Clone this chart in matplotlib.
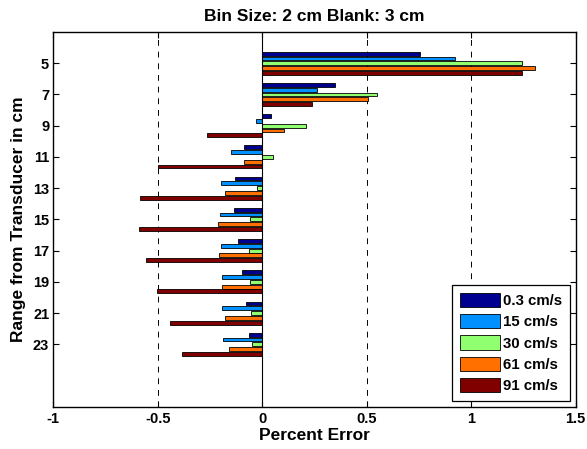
import numpy as np
import matplotlib
matplotlib.use("Agg")
import matplotlib.pyplot as plt

# range bins (cm) and percent error per tow speed
ranges = [5, 7, 9, 11, 13, 15, 17, 19, 21, 23]
speeds = ["0.3 cm/s", "15 cm/s", "30 cm/s", "61 cm/s", "91 cm/s"]
err_03 = [0.755, 0.347, 0.042, -0.086, -0.132, -0.134, -0.115, -0.096, -0.080, -0.064]
err_15 = [0.921, 0.264, -0.030, -0.150, -0.197, -0.204, -0.198, -0.193, -0.193, -0.188]
err_30 = [1.241, 0.547, 0.211, 0.050, -0.024, -0.057, -0.064, -0.057, -0.053, -0.048]
err_61 = [1.305, 0.508, 0.106, -0.089, -0.177, -0.212, -0.209, -0.193, -0.179, -0.161]
err_91 = [1.241, 0.238, -0.264, -0.499, -0.585, -0.591, -0.554, -0.503, -0.441, -0.385]
colors = ["#000090", "#0090ff", "#90ff70", "#ff7000", "#800000"]

plt.rcParams['font.family'] = ['Liberation Sans', 'DejaVu Sans']
plt.rcParams['font.weight'] = 'bold'

fig = plt.figure(figsize=(5.87, 4.49), dpi=100)
ax = fig.add_axes([0.0908, 0.0942, 0.8899, 0.8345])

y = np.array(ranges, dtype=float)
series = [err_03, err_15, err_30, err_61, err_91]
# matlab-style grouped bars: 5 series in a group of spacing 2
step = 2 * min(0.8, 5 / 6.5) / 5
for i, (vals, c, lab) in enumerate(zip(series, colors, speeds)):
    ax.barh(y + (i - 2) * step, vals, height=step * 0.8, color=c,
            edgecolor='black', linewidth=0.6, label=lab, zorder=3)

ax.axvline(0, color='black', linewidth=0.8, zorder=4)
for xv in [-0.5, 0.5, 1.0]:
    ax.axvline(xv, color='black', linestyle=(0, (6, 6)), linewidth=0.7, zorder=1)

ax.set_xlim(-1, 1.5)
ax.set_ylim(27, 3)
ax.set_xticks([-1, -0.5, 0, 0.5, 1, 1.5])
ax.set_xticklabels(["-1", "-0.5", "0", "0.5", "1", "1.5"])
ax.set_yticks(ranges)
ax.tick_params(direction='in', top=True, right=True, labelsize=10.5, length=4.5, width=0.8)
ax.tick_params(axis='x', pad=4)
ax.tick_params(axis='y', pad=3)
for s in ax.spines.values():
    s.set_linewidth(1.0)

ax.set_title("Bin Size: 2 cm Blank: 3 cm", fontsize=12.5, fontweight='bold', pad=8)
ax.set_xlabel("Percent Error", fontsize=12.5, fontweight='bold', labelpad=1)
ax.set_ylabel("Range from Transducer in cm", fontsize=12.5, fontweight='bold', labelpad=5)

leg = ax.legend(loc='lower right', fontsize=10.8, frameon=True, fancybox=False,
                edgecolor='black', handlelength=2.7, handleheight=1.1,
                handletextpad=0.2, labelspacing=0.4, borderpad=0.5,
                borderaxespad=0.4, framealpha=1)
leg.get_frame().set_linewidth(0.9)
for t in leg.get_texts():
    t.set_fontweight('bold')

plt.savefig("out.png", dpi=100)
